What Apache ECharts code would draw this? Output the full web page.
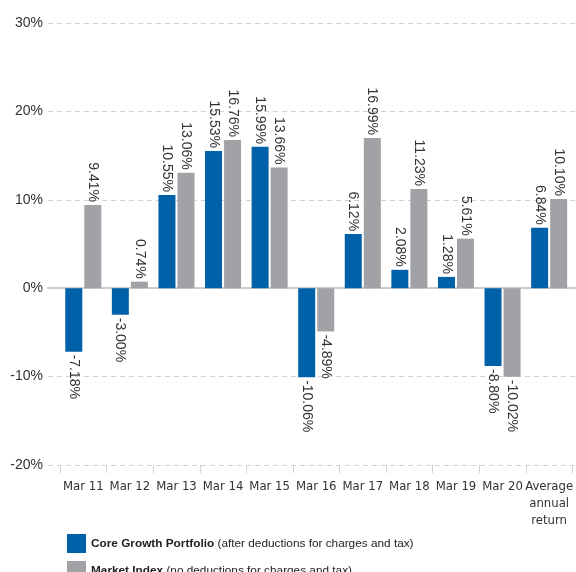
<!DOCTYPE html>
<html>
<head>
<meta charset="utf-8">
<script src="https://cdn.jsdelivr.net/npm/echarts@6/dist/echarts.min.js"></script>
<style>
html,body{margin:0;padding:0;background:#fff;}
#chart{width:576px;height:572px;}
</style>
</head>
<body>
<div id="chart"></div>
<script>
const categories = ['Mar 11','Mar 12','Mar 13','Mar 14','Mar 15','Mar 16','Mar 17','Mar 18','Mar 19','Mar 20','Average\nannual\nreturn'];
const coreGrowth = [-7.18, -3.00, 10.55, 15.53, 15.99, -10.06, 6.12, 2.08, 1.28, -8.80, 6.84];
const marketIndex = [9.41, 0.74, 13.06, 16.76, 13.66, -4.89, 16.99, 11.23, 5.61, -10.02, 10.10];
const yTicks = { min: -20, max: 30, interval: 10 };
const seriesNames = ['Core Growth Portfolio', 'Market Index'];
const seriesNotes = ['(after deductions for charges and tax)', '(no deductions for charges and tax)'];

const BLUE = '#0061a9';
const GREY = '#a1a2a5';
const TEXT = '#333333';
const GRID = '#d2d2d2';
const COND = '"DejaVu Sans Condensed", "Liberation Sans", sans-serif';
const LEG = '"Liberation Sans", sans-serif';

function labelled(values) {
  return values.map(v => ({
    value: v,
    label: v >= 0
      ? { position: 'top', align: 'right' }
      : { position: 'bottom', align: 'left' }
  }));
}

const baseLabel = {
  show: true,
  rotate: -90,
  verticalAlign: 'middle',
  distance: 3,
  color: TEXT,
  fontFamily: 'Liberation Sans',
  fontSize: 14,
  formatter: p => p.value.toFixed(2) + '%'
};

function legendFor(i, top) {
  return {
    orient: 'vertical', left: 62, top: top,
    itemWidth: 19, itemHeight: 19, icon: 'rect',
    data: [seriesNames[i]],
    formatter: name => '{b|' + name + '} {n|' + seriesNotes[i] + '}',
    textStyle: {
      color: '#222222', fontFamily: LEG, fontSize: 11.8,
      rich: {
        b: { fontWeight: 'bold', color: '#222222', fontFamily: LEG, fontSize: 11.8 },
        n: { fontWeight: 'normal', color: '#222222', fontFamily: LEG, fontSize: 11.8 }
      }
    }
  };
}

const chart = echarts.init(document.getElementById('chart'), null, { renderer: 'canvas' });
chart.setOption({
  animation: false,
  backgroundColor: '#ffffff',
  grid: [
    { left: 48, right: 0, top: 23, bottom: 107 },
    { left: 60, right: 1, top: 23, bottom: 107 }
  ],
  xAxis: [
    {
      gridIndex: 0, type: 'category', data: [''],
      axisLine: { show: true, onZero: true, lineStyle: { color: '#cccccc', width: 2 } },
      axisTick: { show: false }, axisLabel: { show: false }, splitLine: { show: false }
    },
    {
      gridIndex: 1, type: 'category', data: categories,
      axisLine: { show: false, onZero: false },
      axisTick: { show: true, length: 8, lineStyle: { color: GRID, width: 1 } },
      axisLabel: {
        margin: 13, color: TEXT, fontFamily: COND, fontSize: 13,
        lineHeight: 17, interval: 0, align: 'center'
      },
      splitLine: { show: false }
    }
  ],
  yAxis: [
    {
      gridIndex: 0, type: 'value', min: yTicks.min, max: yTicks.max, interval: yTicks.interval,
      axisLine: { show: false }, axisTick: { show: false },
      axisLabel: { margin: 5, color: TEXT, fontFamily: 'Liberation Sans', fontSize: 14, formatter: '{value}%' },
      splitLine: { show: true, lineStyle: { color: GRID, type: [5, 4], width: 1.2 } }
    },
    {
      gridIndex: 1, type: 'value', min: yTicks.min, max: yTicks.max, interval: yTicks.interval,
      show: false, splitLine: { show: false }
    }
  ],
  legend: [legendFor(0, 529), legendFor(1, 556)],
  series: [
    {
      name: seriesNames[0], type: 'bar', xAxisIndex: 1, yAxisIndex: 1,
      barWidth: 17, barGap: '12%',
      itemStyle: { color: BLUE },
      label: baseLabel,
      data: labelled(coreGrowth)
    },
    {
      name: seriesNames[1], type: 'bar', xAxisIndex: 1, yAxisIndex: 1,
      barWidth: 17, barGap: '12%',
      itemStyle: { color: GREY },
      label: baseLabel,
      data: labelled(marketIndex)
    }
  ]
});
</script>
</body>
</html>
